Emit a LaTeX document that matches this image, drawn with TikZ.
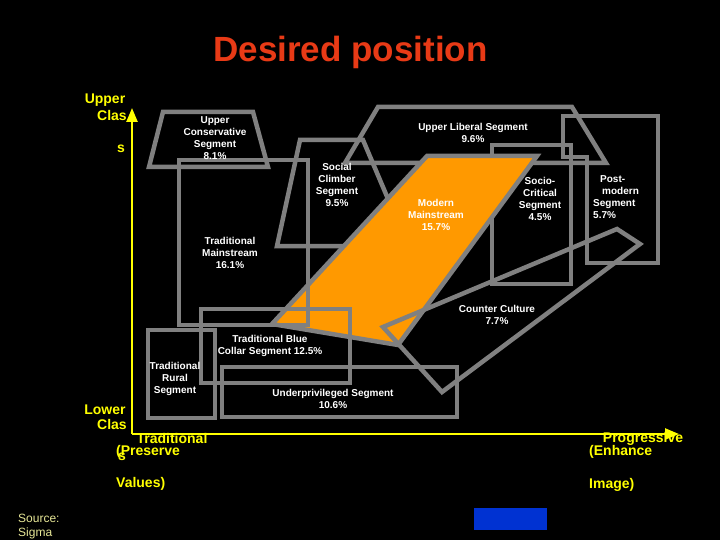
\documentclass[tikz,border=0pt]{standalone}
\usepackage{fontspec}
\setmainfont{Liberation Sans}
\usetikzlibrary{arrows.meta}
\definecolor{seggray}{RGB}{128,128,128}
\definecolor{segorange}{RGB}{255,153,0}
\definecolor{axisyellow}{RGB}{255,255,0}
\definecolor{titlered}{RGB}{232,58,22}
\definecolor{srcyellow}{RGB}{230,230,150}
\definecolor{boxblue}{RGB}{0,50,210}
\begin{document}
\begin{tikzpicture}[x=1pt,y=-1pt,
  seg/.style={draw=seggray,line width=4.5pt},
  lbl/.style={text=white,font=\fontsize{10}{12}\selectfont\bfseries,align=center,inner sep=0pt},
  axlbl/.style={text=axisyellow,font=\fontsize{14}{16}\selectfont\bfseries,inner sep=0pt},
  srclbl/.style={text=srcyellow,font=\fontsize{12}{14}\selectfont,inner sep=0pt,anchor=west},
  axisline/.style={draw=axisyellow,line width=2.5pt,-{Triangle[length=14pt,width=11pt]}}]
\fill[black] (0,0) rectangle (720,540);
\useasboundingbox (0,0) rectangle (720,540);

% shapes below the orange one
\draw[seg] (300,140) -- (363,140) -- (408,246) -- (277,246) -- cycle;
\draw[seg] (378,107) -- (572,107) -- (606,163) -- (345,163) -- cycle;
\draw[seg] (492,145) rectangle (571,284);
\draw[seg] (163,112) -- (253,112) -- (268,167) -- (149,167) -- cycle;
\draw[seg] (563,116) -- (658,116) -- (658,263) -- (587,263) -- (587,157) -- (563,157) -- cycle;

% modern mainstream
\draw[seg,fill=segorange] (427,156) -- (537,156) -- (398,345) -- (272,324) -- cycle;

% shapes above
\draw[seg] (179,160) rectangle (308,325);
\draw[seg] (201,309) rectangle (350,383);
\draw[seg] (148,330) rectangle (215,418);
\draw[seg] (222,367) rectangle (457,417);
\draw[seg] (383,327) -- (617,229) -- (640,244) -- (442,392) -- cycle;

% axes
\coordinate (origin) at (132,434);
\coordinate (ytip) at (132,108);
\coordinate (xtip) at (679,434);
\draw[axisline] (origin) -- (ytip);
\draw[axisline] (origin) -- (xtip);

% title
\node[text=titlered,font=\fontsize{35}{40}\selectfont\bfseries,anchor=base,inner sep=0pt] (title) at (350.5,62) {Desired position};

% segment labels
\node[lbl] (uc) at (215,138) {Upper\\Conservative\\Segment\\8.1\%};
\node[lbl] (sc) at (337,185) {Social\\Climber\\Segment\\9.5\%};
\node[lbl] (tm) at (230,253) {Traditional\\Mainstream\\16.1\%};
\node[lbl] (ul) at (473,133) {Upper Liberal Segment\\9.6\%};
\node[lbl] (mm) at (436,215) {Modern\\Mainstream\\15.7\%};
\node[lbl] (soc) at (540,199) {Socio-\\Critical\\Segment\\4.5\%};
\node[lbl,align=left,anchor=west] (pm) at (593,197) {\hspace*{7pt}Post-\\\hspace*{9pt}modern\\Segment\\5.7\%};
\node[lbl] (cc) at (497,315) {Counter Culture\\7.7\%};
\node[lbl] (tbc) at (270,346) {Traditional Blue\\Collar Segment 12.5\%};
\node[lbl] (tr) at (175,379) {Traditional\\Rural\\Segment};
\node[lbl] (up) at (333,399) {Underprivileged Segment\\10.6\%};

% axis labels
\node[axlbl] (upper1) at (105,100) {Upper};
\node[axlbl] (upper2) at (112,115) {Clas};
\node[axlbl] (upper3) at (121,149) {s};
\node[axlbl] (lower1) at (105,410) {Lower};
\node[axlbl] (lower2) at (112,424) {Clas};
\node[axlbl] (lower3) at (122,457) {s};
\node[axlbl] (trad1) at (172,438) {Traditional};
\node[axlbl,anchor=west] (trad2) at (116,452) {(Preserve};
\node[axlbl,anchor=west] (trad3) at (116,484) {Values)};
\node[axlbl] (prog1) at (643,439) {Progressive};
\node[axlbl,anchor=west] (prog2) at (589,452) {(Enhance};
\node[axlbl,anchor=west] (prog3) at (589,485) {Image)};

% source
\node[srclbl] (src1) at (18,518) {Source:};
\node[srclbl] (src2) at (18,533) {Sigma};
\fill[boxblue] (474,508) rectangle (547,530);
\end{tikzpicture}
\end{document}
